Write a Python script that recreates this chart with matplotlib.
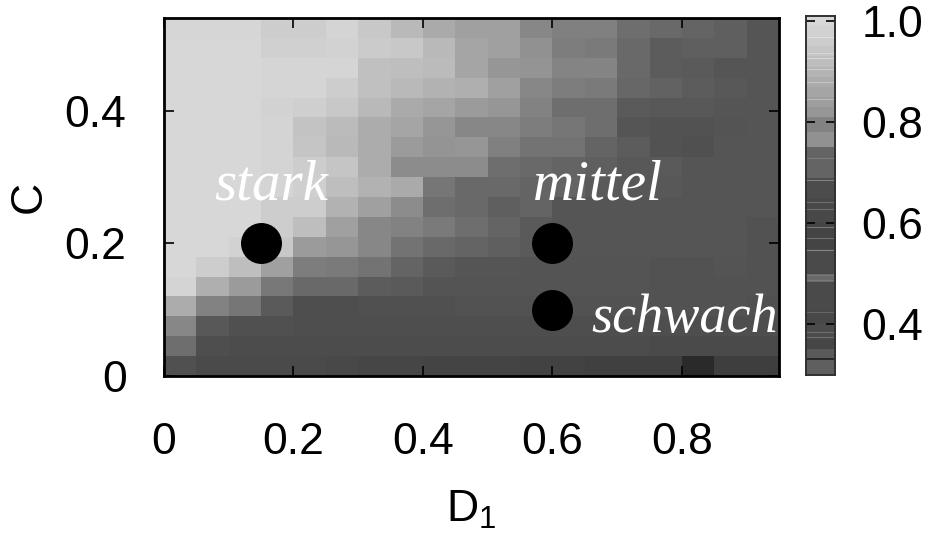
import numpy as np
import matplotlib
matplotlib.use('Agg')
import matplotlib.pyplot as plt

plt.rcParams['font.family'] = ['Liberation Sans', 'DejaVu Sans']
plt.rcParams['mathtext.fontset'] = 'custom'
plt.rcParams['mathtext.rm'] = 'Liberation Sans'
plt.rcParams['mathtext.default'] = 'rm'

# grey level of every cell, top row first
grid = [
    [214,214,214,205,205,212,200,185,170,160,160,135,128,128,110,105,100, 95, 85],
    [215,215,215,208,208,210,203,200,185,165,160,145,125,122,105, 92, 95, 95, 85],
    [215,215,215,213,213,213,192,190,187,165,150,148,132,132,105, 92, 90, 85, 85],
    [215,215,215,213,213,205,192,185,178,175,160,135,125,122,103, 98, 92, 88, 85],
    [215,215,215,210,207,200,185,170,165,155,150,130,110,110, 90, 88, 88, 85, 85],
    [215,215,215,212,195,187,172,165,150,135,135,125,118,110, 85, 82, 82, 84, 85],
    [215,215,215,212,197,185,172,155,148,150,128,115,115,100, 92, 82, 80, 85, 85],
    [215,215,215,212,205,197,172,140,140,140,110,105,100, 95, 88, 90, 85, 85, 85],
    [215,215,215,212,207,190,178,170,118,105,105,100,100, 90, 88, 88, 85, 85, 85],
    [215,215,215,205,205,178,160,140,110,105, 95,100, 85, 85, 85, 85, 85, 85, 85],
    [215,215,215,205,190,160,135,130,122,110,100, 90, 85, 85, 85, 85, 85, 85, 82],
    [215,215,210,200,155,150,135,115,105,100, 95, 90, 85, 85, 85, 85, 85, 85, 82],
    [215,205,190,160,125,122,115,100, 90, 85, 85, 84, 84, 84, 84, 82, 82, 84, 82],
    [212,175,155,120,105,105, 92, 90, 84, 84, 84, 84, 84, 84, 84, 82, 82, 82, 82],
    [172,130,118, 90, 78, 78, 80, 80, 80, 82, 82, 82, 82, 82, 82, 82, 82, 82, 80],
    [135, 88, 80, 80, 78, 78, 78, 78, 78, 78, 78, 78, 78, 78, 78, 78, 78, 78, 78],
    [110, 78, 76, 76, 76, 76, 76, 76, 76, 76, 76, 76, 76, 76, 76, 74, 74, 74, 74],
    [ 80, 74, 74, 74, 74, 72, 70, 70, 68, 68, 68, 66, 66, 64, 64, 64, 42, 62, 62],
]
x_edges = np.arange(20) * 0.05
y_edges = 0.54 - np.arange(19) * 0.03

points_x = [0.15, 0.6, 0.6]
points_y = [0.2, 0.2, 0.1]

notes = ['stark', 'mittel', 'schwach']
notes_x = [0.078, 0.57, 0.66]
notes_y = [0.288, 0.288, 0.086]
notes_size = [41, 41, 39]

xticks = [0, 0.2, 0.4, 0.6, 0.8]
xticklabels = ['0', '0.2', '0.4', '0.6', '0.8']
yticks = [0, 0.2, 0.4]
yticklabels = ['0', '0.2', '0.4']

cbar_edges = [1.01,.99,.97,.95,.93,.91,.89,.87,.85,.83,.81,.78,.75,.69,.65,.60,.55,.50,.484,.428,.40,.372,.352,.334,.329,.30]
cbar_grey = [215,210,205,198,190,180,172,165,158,150,130,145,100,76,72,68,74,105,74,72,76,70,90,40,95]
stripes = [.969,.936,.926,.906,.88,.845,.729,.685,.642,.629,.593,.571,.548,.497,.487,.424,.385,.375]
stripes_grey = [225,215,215,205,195,185,125,130,110,110,120,110,130,120,120,100,110,110]
cbar_ticks = [0.4, 0.6, 0.8, 1.0]
cbar_ticklabels = ['0.4', '0.6', '0.8', '1.0']

W, H = 929, 533
fig = plt.figure(figsize=(W / 100, H / 100), dpi=100)

def px_axes(left, top, right, bottom):
    return fig.add_axes([left / W, 1 - bottom / H, (right - left) / W, (bottom - top) / H])

ax = px_axes(164, 18, 779, 376)
ax.pcolormesh(x_edges, y_edges, np.array(grid), cmap='gray', vmin=0, vmax=255)
ax.plot(points_x, points_y, 'o', color='black', ms=29.5, mew=0, clip_on=False)
ax.set_xlim(0, 0.95)
ax.set_ylim(0, 0.54)
ax.set_xticks(xticks, xticklabels)
ax.set_yticks(yticks, yticklabels)
ax.tick_params(direction='in', top=True, right=True, length=7.5, width=1.2, labelsize=32)
ax.tick_params(axis='x', pad=33)
ax.tick_params(axis='y', pad=27)
for s in ax.spines.values():
    s.set_linewidth(2)
ax.set_xlabel('D$_1$', fontsize=32, labelpad=19)
ax.set_ylabel('C', fontsize=32, labelpad=11)

for name, nx, ny, fs in zip(notes, notes_x, notes_y, notes_size):
    ax.text(nx, ny, name, color='white', fontsize=fs, style='italic',
            family=['Liberation Serif', 'DejaVu Serif'], ha='left', va='center')

cax = px_axes(806, 16, 835, 375)
cax.pcolormesh([0, 1], cbar_edges, np.array(cbar_grey).reshape(-1, 1), cmap='gray', vmin=0, vmax=255)
for v, g in zip(stripes, stripes_grey):
    cax.axhline(v, color=str(g / 255), lw=0.8)
cax.set_xlim(0, 1)
cax.set_ylim(0.30, 1.01)
cax.set_xticks([])
cax.set_yticks(cbar_ticks, cbar_ticklabels)
cax.yaxis.tick_right()
cax.tick_params(axis='y', direction='in', left=True, right=True, length=6.5, width=1.2, labelsize=32, pad=19)
for s in cax.spines.values():
    s.set_linewidth(1.4)
    s.set_color('#303030')

fig.savefig('out.png', dpi=100)
